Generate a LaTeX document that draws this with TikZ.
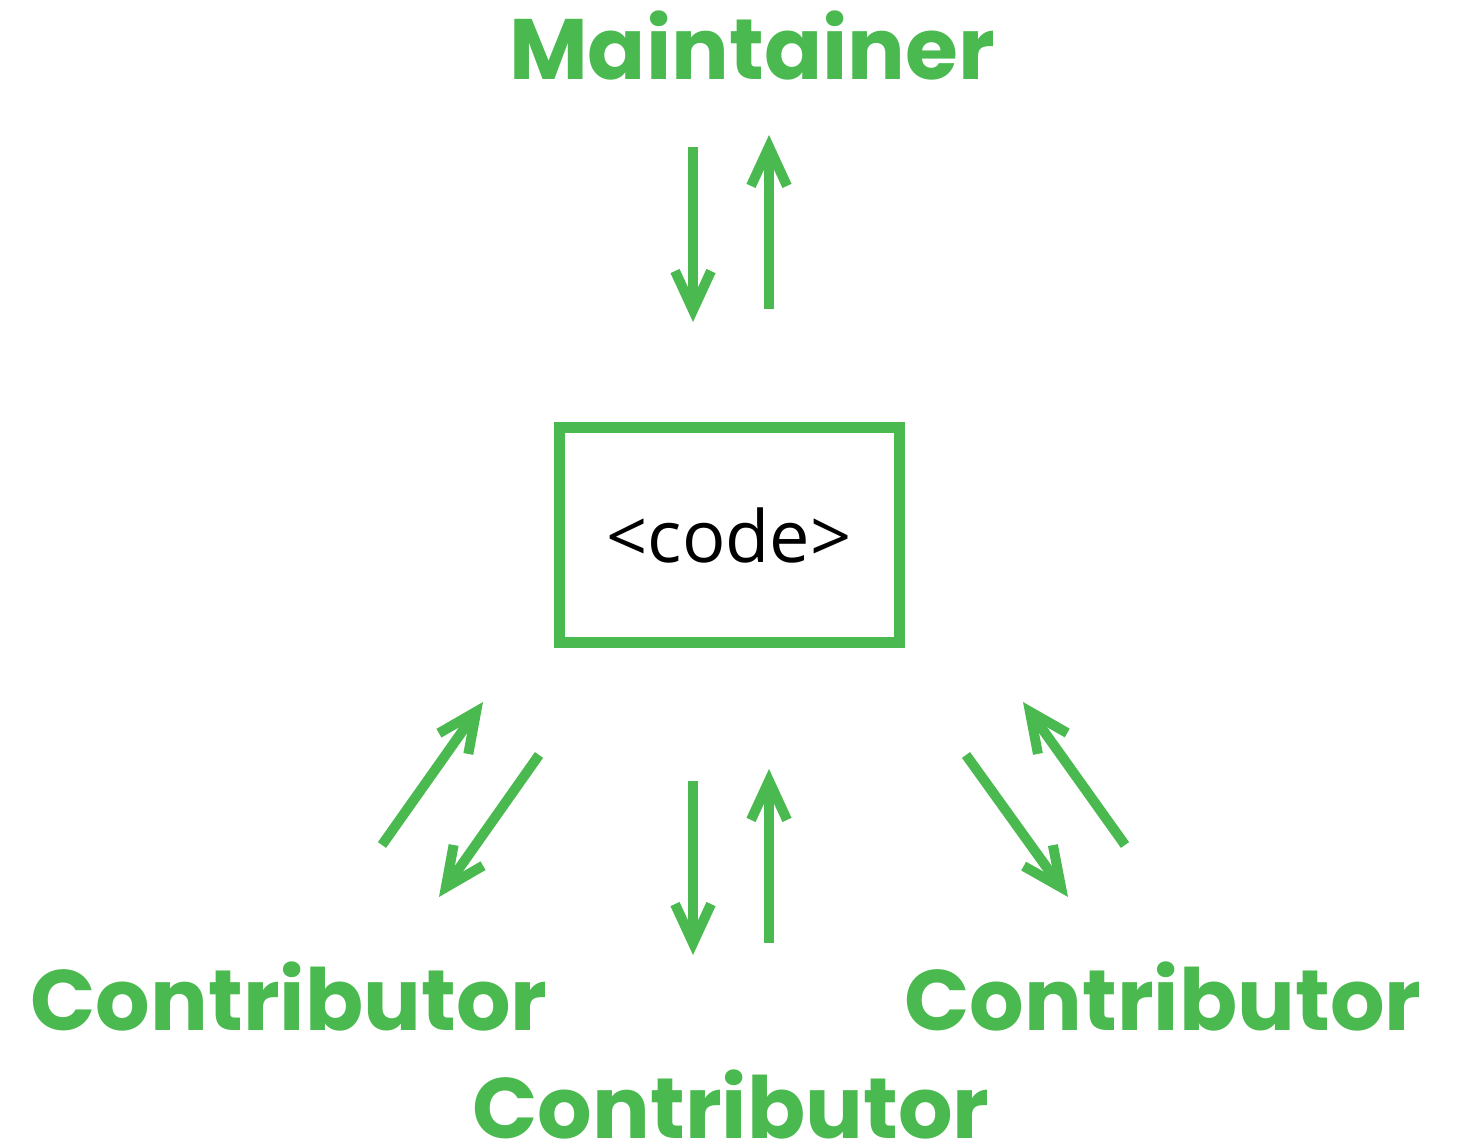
\documentclass[tikz,border=0pt]{standalone}
\usepackage{fontspec}
\newfontfamily\labelfont{Poppins}
\newfontfamily\codefont{Open Sans}
\usetikzlibrary{arrows.meta}
\definecolor{repogreen}{RGB}{74,185,80}

\begin{document}
\begin{tikzpicture}[
    role/.style={text=repogreen, font=\labelfont\bfseries\fontsize{24.4}{28}\selectfont, anchor=base, inner sep=0pt},
    flow/.style={repogreen, line width=1.0mm, -{Straight Barb[length=3.9mm, width=3.6mm, sharp]}}
  ]
    \useasboundingbox (0,0) rectangle (14.67,11.47);

    % The code in the middle
    \node[draw=repogreen, line width=1.1mm, minimum width=3.40cm, minimum height=2.155cm, inner sep=0pt,
          font=\codefont\fontsize{20.5}{24}\selectfont] (code) at (7.29,6.12) {<code>};

    % The people round it
    \node[role] (maint) at (7.52,10.67) {Maintainer};
    \node[role] (contribL) at (2.89,1.16) {Contributor};
    \node[role] (contribR) at (11.63,1.16) {Contributor};
    \node[role] (contribB) at (7.31,0.08) {Contributor};

    % Ends of the arrows
    \coordinate (mdA) at (6.93,10.00);  \coordinate (mdB) at (6.93,8.25);
    \coordinate (muA) at (7.69,8.38);   \coordinate (muB) at (7.69,10.12);
    \coordinate (bdA) at (6.93,3.66);   \coordinate (bdB) at (6.93,1.92);
    \coordinate (buA) at (7.69,2.04);   \coordinate (buB) at (7.69,3.78);
    \coordinate (luA) at (3.82,3.02);   \coordinate (luB) at (4.83,4.45);
    \coordinate (ldA) at (5.39,3.92);   \coordinate (ldB) at (4.39,2.50);
    \coordinate (rdA) at (9.66,3.92);   \coordinate (rdB) at (10.68,2.50);
    \coordinate (ruA) at (11.25,3.02);  \coordinate (ruB) at (10.23,4.45);

    % Maintainer <-> code
    \draw[flow] (mdA) -- (mdB);
    \draw[flow] (muA) -- (muB);

    % Contributors <-> code
    \draw[flow] (luA) -- (luB);
    \draw[flow] (ldA) -- (ldB);
    \draw[flow] (bdA) -- (bdB);
    \draw[flow] (buA) -- (buB);
    \draw[flow] (rdA) -- (rdB);
    \draw[flow] (ruA) -- (ruB);
\end{tikzpicture}
\end{document}
